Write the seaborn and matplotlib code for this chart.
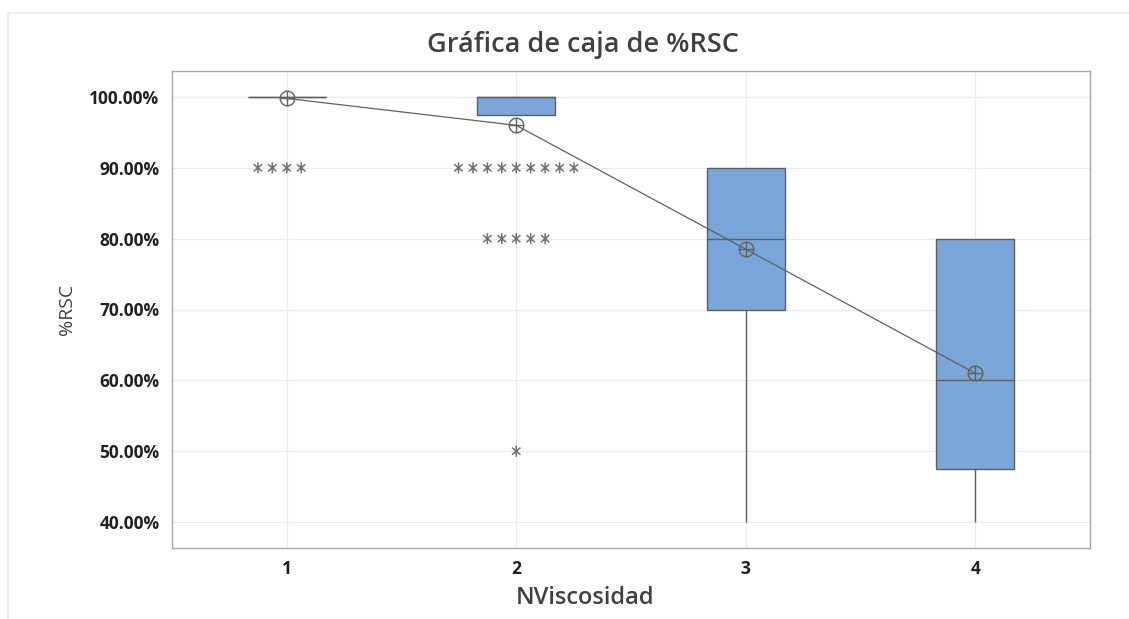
import numpy as np
import pandas as pd
import matplotlib
matplotlib.use("Agg")
import matplotlib.pyplot as plt
from matplotlib.path import Path
from matplotlib.lines import Line2D
import seaborn as sns

# observaciones por nivel de viscosidad: valores de %RSC y cuantas veces aparecen
niveles = [1, 2, 3, 4]
valores_1 = [100, 90]
conteo_1 = [196, 4]
valores_2 = [100, 90, 80, 50]
conteo_2 = [45, 9, 5, 1]
valores_3 = [90, 80, 70, 60, 50, 40]
conteo_3 = [11, 7, 6, 1, 1, 1]
valores_4 = [80, 70, 60, 50, 40]
conteo_4 = [6, 2, 5, 2, 5]

rows = []
for nivel, vals, cnts in zip(niveles,
                             [valores_1, valores_2, valores_3, valores_4],
                             [conteo_1, conteo_2, conteo_3, conteo_4]):
    for v, c in zip(vals, cnts):
        rows += [(nivel, v)] * c
df = pd.DataFrame(rows, columns=["NViscosidad", "RSC"])

# atipicos segun la regla 1.5*IQR (como Minitab)
def atipicos(g):
    q1, q3 = np.percentile(g["RSC"], [25, 75])
    iqr = q3 - q1
    return g[(g["RSC"] < q1 - 1.5 * iqr) | (g["RSC"] > q3 + 1.5 * iqr)]
df_out = pd.concat([atipicos(g) for _, g in df.groupby("NViscosidad")])

# asterisco de Minitab
arms = []
codes = []
for ang in [90, 40, 140]:
    a = np.deg2rad(ang)
    dx, dy = 0.9 * np.cos(a), 0.9 * np.sin(a)
    arms += [(-dx, -dy), (dx, dy)]
    codes += [Path.MOVETO, Path.LINETO]
arms += [(1, 1), (-1, -1)]
codes += [Path.MOVETO, Path.MOVETO]
asterisco = Path(arms, codes)

sns.set_style("white")
plt.rcParams["font.family"] = ["Open Sans", "DejaVu Sans"]

fig = plt.figure(figsize=(11.29, 6.19), dpi=100)
ax = fig.add_axes([172 / 1129, 1 - 548 / 619, 918 / 1129, 477 / 619])

order = niveles
sns.boxplot(data=df, x="NViscosidad", y="RSC", order=order, ax=ax,
            width=0.34, color="#7aa6da", saturation=1, showfliers=False,
            showcaps=False, whis=1.5,
            boxprops=dict(edgecolor="#5f5f5f", linewidth=1),
            medianprops=dict(color="#5f5f5f", linewidth=1),
            whiskerprops=dict(color="#5f5f5f", linewidth=1))

sns.swarmplot(data=df_out, x="NViscosidad", y="RSC", order=order, ax=ax,
              marker=asterisco, size=8.8, color="none", edgecolor="#707070",
              linewidth=1.1)
for c in ax.collections[-len(df_out["NViscosidad"].unique()):]:
    c.set_edgecolor("#707070")
    c.set_facecolor("none")
    c.set_linewidth(1.1)

sns.pointplot(data=df, x="NViscosidad", y="RSC", order=order, ax=ax,
              estimator="mean", errorbar=None, color="#606060",
              markers="o", markersize=10.5, markerfacecolor="none",
              markeredgewidth=1, linewidth=0.9)
sns.pointplot(data=df, x="NViscosidad", y="RSC", order=order, ax=ax,
              estimator="mean", errorbar=None, color="#606060",
              markers="+", markersize=10.5, markeredgewidth=1,
              linestyles="none")

ax.set_xlim(-0.5, 3.5)
ax.set_ylim(36.33, 103.67)
ax.set_yticks([40, 50, 60, 70, 80, 90, 100])
ax.set_yticklabels(["{:.2f}%".format(v) for v in [40, 50, 60, 70, 80, 90, 100]])
ax.set_xticks(range(4))
ax.set_xticklabels([str(n) for n in niveles])

ax.grid(True, color="#ebebeb", linewidth=1)
ax.set_axisbelow(True)
for s in ax.spines.values():
    s.set_color("#a8a8a8")
    s.set_linewidth(1)
ax.tick_params(axis="both", direction="out", length=6, width=1, color="#a8a8a8",
               labelsize=12.5, labelcolor="#222222", pad=3)
for lab in ax.get_xticklabels() + ax.get_yticklabels():
    lab.set_fontweight("bold")

ax.set_xlabel("NViscosidad", fontsize=17, color="#404040", fontweight="semibold")
ax.set_ylabel("%RSC", fontsize=14, color="#404040")
ax.xaxis.set_label_coords((585 - 172) / 918, -0.08)
ax.yaxis.set_label_coords(-0.105, 0.5)

fig.text(583 / 1129, 1 - 45 / 619, "Gráfica de caja de %RSC", ha="center",
         va="center", fontsize=19.5, color="#404040", fontweight="semibold")

# marco claro del grafico
fig.add_artist(Line2D([8 / 1129, 1], [1 - 13 / 619, 1 - 13 / 619],
                      transform=fig.transFigure, color="#ececec", linewidth=1.2))
fig.add_artist(Line2D([8 / 1129, 8 / 1129], [0, 1 - 13 / 619],
                      transform=fig.transFigure, color="#ececec", linewidth=1.2))

fig.savefig("out.png", dpi=100)
